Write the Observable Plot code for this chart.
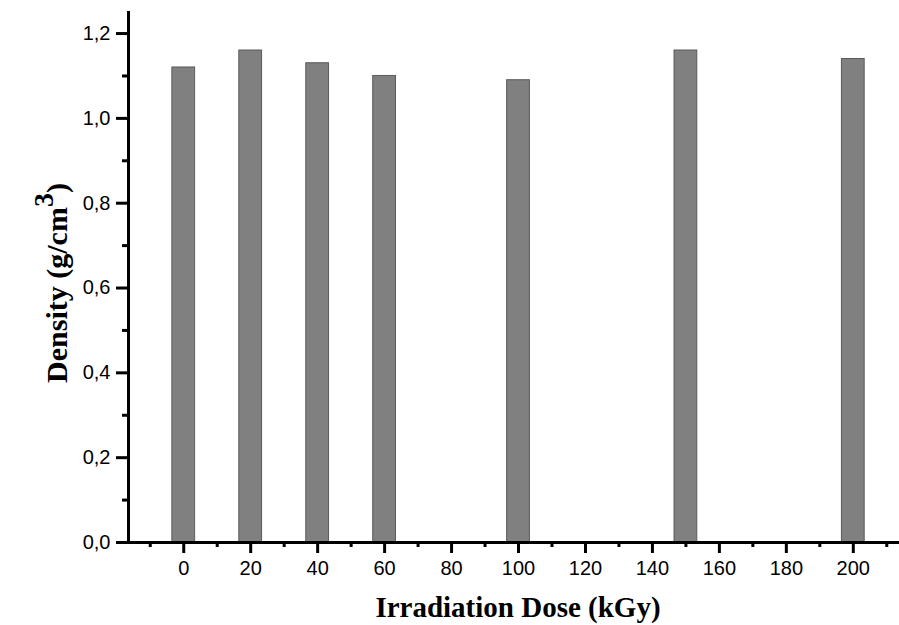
<!DOCTYPE html>
<html>
<head>
<meta charset="utf-8">
<script src="https://cdn.jsdelivr.net/npm/d3@7"></script>
<script src="https://cdn.jsdelivr.net/npm/@observablehq/plot@0.6"></script>
<style>
  html, body { margin: 0; padding: 0; background: #fff; }
  svg { display: block; }
  svg [aria-label$="tick label"] { font-size: 20px !important; }
</style>
</head>
<body>
<div id="chart"></div>
<script>
const doses = [0, 20, 40, 60, 100, 150, 200];
const densities = [1.12, 1.16, 1.13, 1.10, 1.09, 1.16, 1.14];
const xMajorTicks = [0, 20, 40, 60, 80, 100, 120, 140, 160, 180, 200];
const xMinorTicks = [-10, 10, 30, 50, 70, 90, 110, 130, 150, 170, 190, 210];
const yMajorTicks = [0, 0.2, 0.4, 0.6, 0.8, 1.0, 1.2];
const yMinorTicks = [0.1, 0.3, 0.5, 0.7, 0.9, 1.1];
const xTitle = "Irradiation Dose (kGy)";
const yTitle = "Density (g/cm";
const ySup = "3";

const data = doses.map((d, i) => ({dose: d, density: densities[i]}));
const halfWidth = 3.4;
const xDomain = [-16.5, 213.8];
const yDomain = [0, 1.252];
const fmt = v => v.toFixed(1).replace(".", ",");

const plot = Plot.plot({
  width: 899,
  height: 625,
  marginLeft: 128,
  marginRight: 0,
  marginTop: 11,
  marginBottom: 83,
  style: {fontFamily: "Arial, 'Liberation Sans', sans-serif", fontSize: "20px", color: "#000", background: "#fff"},
  x: {domain: xDomain},
  y: {domain: yDomain},
  marks: [
    Plot.rectY(data, {x1: d => d.dose - halfWidth, x2: d => d.dose + halfWidth, y: "density", fill: "#808080", stroke: "#5a5a5a", strokeWidth: 1}),
    Plot.axisX({ticks: xMajorTicks, tickSize: 11, tickPadding: 7, tickFormat: d => String(d), stroke: "#000", strokeWidth: 3, fontSize: 20, label: null}),
    Plot.axisX({ticks: xMinorTicks, tickSize: 5, tickFormat: () => "", stroke: "#000", strokeWidth: 3, label: null}),
    Plot.axisY({ticks: yMajorTicks, tickSize: 12, tickPadding: 6, tickFormat: fmt, stroke: "#000", strokeWidth: 3, fontSize: 20, label: null}),
    Plot.axisY({ticks: yMinorTicks, tickSize: 6, tickFormat: () => "", stroke: "#000", strokeWidth: 3, label: null}),
    Plot.ruleX([xDomain[0]], {stroke: "#000", strokeWidth: 3}),
    Plot.ruleY([0], {stroke: "#000", strokeWidth: 3})
  ]
});

const svg = d3.select(plot);
svg.append("text")
  .attr("x", 518)
  .attr("y", 617)
  .attr("text-anchor", "middle")
  .attr("font-family", "'Liberation Serif', 'Times New Roman', serif")
  .attr("font-weight", "bold")
  .attr("font-size", 29)
  .attr("fill", "#000")
  .text(xTitle);

const yt = svg.append("text")
  .attr("transform", "translate(67,283) rotate(-90)")
  .attr("text-anchor", "middle")
  .attr("font-family", "'Liberation Serif', 'Times New Roman', serif")
  .attr("font-weight", "bold")
  .attr("font-size", 30)
  .attr("fill", "#000");
yt.append("tspan").text(yTitle);
yt.append("tspan").attr("dy", -14).attr("font-size", 28).text(ySup);
yt.append("tspan").attr("dy", 14).text(")");

document.getElementById("chart").appendChild(plot);
</script>
</body>
</html>
